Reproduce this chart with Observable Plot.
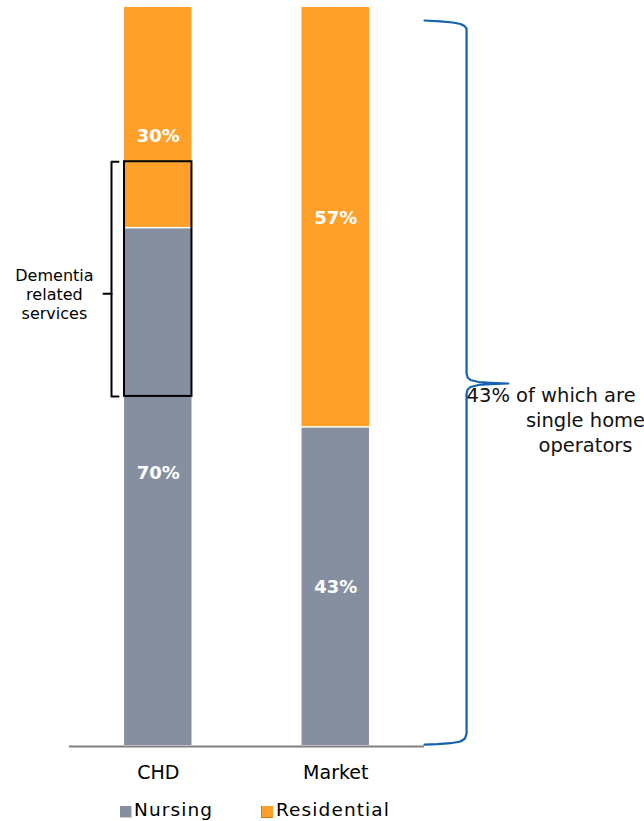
<!DOCTYPE html>
<html>
<head>
<meta charset="utf-8">
<script src="https://cdn.jsdelivr.net/npm/d3@7"></script>
<script src="https://cdn.jsdelivr.net/npm/@observablehq/plot@0.6"></script>
<style>
  body { margin: 0; background: #fff; }
  #wrap { position: relative; width: 644px; height: 821px; font-family: "DejaVu Sans", sans-serif; }
  .lg { position: absolute; top: 799px; font-size: 18.5px; letter-spacing: 1.1px; line-height: 22px; color: #000; white-space: nowrap; }
  .mk { position: absolute; width: 12px; height: 12px; top: 806px; }
</style>
</head>
<body>
<div id="wrap"></div>
<script>
// ---- data ----
const categories = ["CHD", "Market"];
const nursing = [70, 43];
const residential = [30, 57];
const nursingLabelY = [36.9, 21.5];
const residentialLabelY = [82.6, 71.5];
const dementiaRange = [47.3, 79.1];
const dementiaMid = 61.2;
const dementiaText = ["Dementia", "related", "services"];
const braceNote = ["43% of which are", "single home", "operators"];
const seriesNames = ["Nursing", "Residential"];
const colors = ["#858F9F", "#FFA02A"];
// brace outline (data units)
const bracePath = [
  [2.0, 98.24], [2.09, 98.13], [2.158, 97.97], [2.203, 97.77], [2.225, 97.49], [2.237, 97.15],
  [2.237, 50.41], [2.243, 49.86], [2.259, 49.53], [2.304, 49.25], [2.372, 49.15], [2.473, 49.05],
  [2.372, 48.96], [2.304, 48.85], [2.259, 48.58], [2.243, 48.24], [2.237, 47.7],
  [2.237, 1.63], [2.228, 0.95], [2.203, 0.54], [2.146, 0.31], [2.073, 0.19], [2.0, 0.11]
];

const barHalf = 0.19;
const rows = categories.map((c, i) => ({
  c, x1: i + 0.5 - barHalf, x2: i + 0.5 + barHalf, xc: i + 0.5,
  n: nursing[i], r: residential[i],
  nl: nursingLabelY[i], rl: residentialLabelY[i]
}));

const bx = 0.2366, bxEnd = 0.276, bxTick = 0.1915;
const bracket = [[bxEnd, dementiaRange[1]], [bx, dementiaRange[1]], [bx, dementiaRange[0]], [bxEnd, dementiaRange[0]]];
const bracketTick = [[bxTick, dementiaMid], [bx, dementiaMid]];

const chart = Plot.plot({
  width: 644, height: 800,
  marginLeft: 69, marginRight: 220, marginTop: 7, marginBottom: 55,
  x: { type: "linear", domain: [0, 2], axis: null },
  y: { domain: [0, 100], axis: null },
  style: { fontFamily: "DejaVu Sans", color: "#000", background: "#fff", overflow: "visible" },
  marks: [
    Plot.rectY(rows, { x1: "x1", x2: "x2", y1: 0, y2: "n", fill: colors[0] }),
    Plot.rectY(rows, { x1: "x1", x2: "x2", y1: "n", y2: d => d.n + d.r, fill: colors[1], insetBottom: 1.5 }),
    Plot.text(rows, { x: "xc", y: "nl", text: d => d.n + "%", fill: "white", fontWeight: "bold", fontSize: 18 }),
    Plot.text(rows, { x: "xc", y: "rl", text: d => d.r + "%", fill: "white", fontWeight: "bold", fontSize: 18 }),
    Plot.ruleY([0], { stroke: "#808080", strokeWidth: 2, dy: 1 }),
    // dementia box
    Plot.rect([rows[0]], { x1: "x1", x2: "x2", y1: dementiaRange[0], y2: dementiaRange[1], fill: "none", stroke: "#000", strokeWidth: 2 }),
    Plot.line(bracket, { stroke: "#000", strokeWidth: 2 }),
    Plot.line(bracketTick, { stroke: "#000", strokeWidth: 2 }),
    Plot.text([dementiaText.join("\n")], { x: -0.085, y: dementiaMid, text: d => d, fontSize: 16, lineHeight: 1.17, fill: "#000" }),
    // brace
    Plot.line(bracePath, { stroke: "#1462B0", strokeWidth: 2.2, strokeLinejoin: "round" }),
    Plot.text([braceNote[0]], { x: 2.237, y: 47.4, text: d => d, textAnchor: "start", fontSize: 19.5, fill: "#111" }),
    Plot.text([braceNote[1]], { x: 2.907, y: 44.0, text: d => d, fontSize: 19.5, fill: "#111" }),
    Plot.text([braceNote[2]], { x: 2.907, y: 40.6, text: d => d, fontSize: 19.5, fill: "#111" }),
    Plot.axisX([0.5, 1.5], { tickFormat: d => categories[Math.floor(d)], tickSize: 0, tickPadding: 20, fontSize: 19 })
  ]
});

const wrap = document.getElementById("wrap");
wrap.appendChild(chart);

// legend
const legendX = [[120, 134], [261, 276]];
seriesNames.forEach((name, i) => {
  const mk = document.createElement("div");
  mk.className = "mk";
  mk.style.left = legendX[i][0] + "px";
  mk.style.background = colors[i];
  mk.style.boxShadow = i === 0 ? "inset -1px -1px 0 #c9cdd4" : "inset 1px -1px 0 #d07a10";
  wrap.appendChild(mk);
  const t = document.createElement("div");
  t.className = "lg";
  t.style.left = legendX[i][1] + "px";
  t.textContent = name;
  wrap.appendChild(t);
});
</script>
</body>
</html>
